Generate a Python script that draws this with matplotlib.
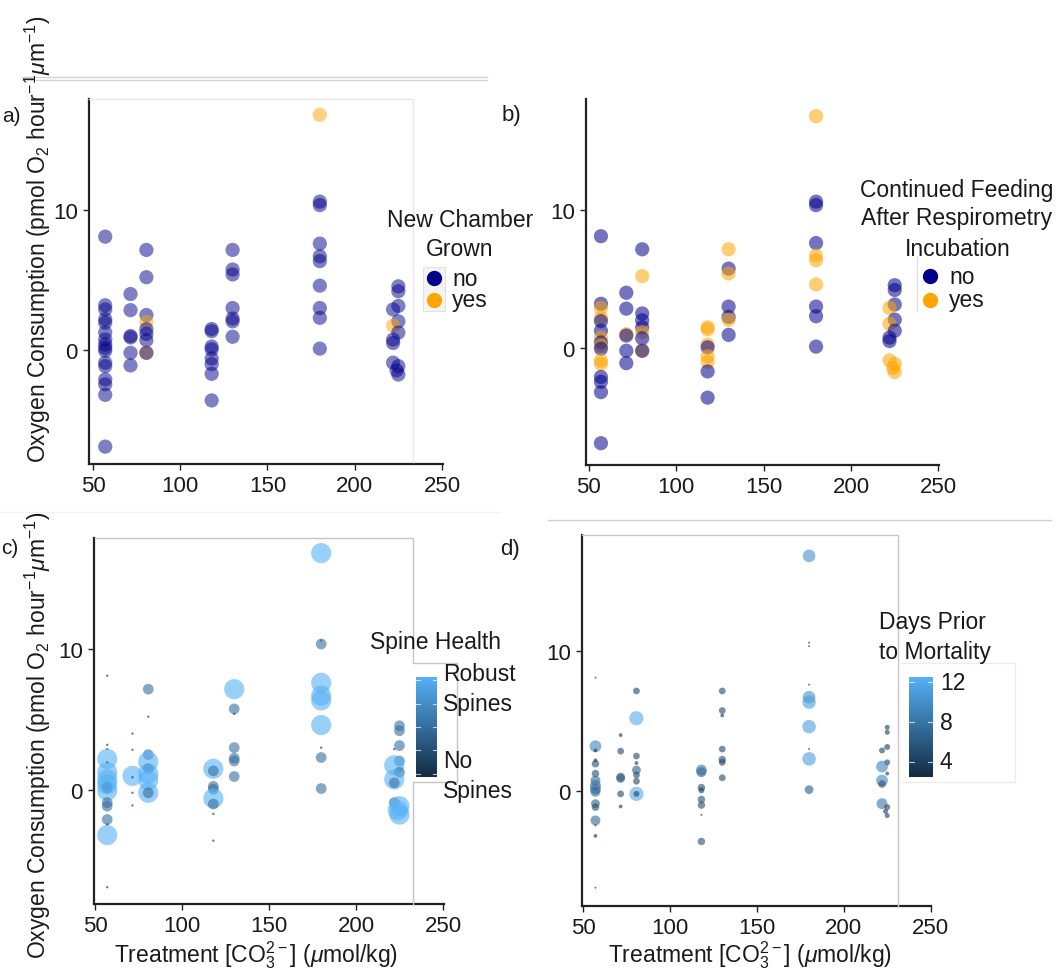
import numpy as np
import matplotlib
matplotlib.use("Agg")
import matplotlib.pyplot as plt
from matplotlib.colors import LinearSegmentedColormap
from matplotlib.lines import Line2D
from matplotlib.patches import Rectangle

# -- data: one row per foram -------------------------------------------------
treatment = [57, 57, 57, 57, 57, 57, 57, 57, 57, 57, 57, 57, 57, 57, 57, 57,
             71.5, 71.5, 71.5, 71.5, 71.5, 71.5,
             80.6, 80.6, 80.6, 80.6, 80.6, 80.6, 80.6, 80.6, 80.6,
             118, 118, 118, 118, 118, 118, 118, 118,
             130, 130, 130, 130, 130, 130, 130,
             180, 180, 180, 180, 180, 180, 180, 180, 180, 180,
             225, 225, 225, 222, 225, 222, 225, 222, 222, 222, 225, 224, 225]
oxygen = [8.1, 3.2, 2.9, 2.2, 1.95, 1.25, 0.75, 0.4, 0.15, -0.05, -0.9, -1.15, -2.1, -2.45, -3.2, -6.9,
          4.0, 2.85, 1.0, 0.9, -0.2, -1.1,
          7.15, 5.2, 2.5, 2.0, 1.5, 1.15, 0.7, -0.2, -0.2,
          1.5, 1.35, 0.25, 0.05, -0.6, -1.0, -1.7, -3.6,
          7.15, 5.75, 5.4, 3.0, 2.25, 2.05, 0.95,
          16.8, 10.6, 10.35, 7.6, 6.7, 6.35, 4.6, 3.0, 2.3, 0.1,
          4.55, 4.2, 3.15, 2.9, 2.05, 1.75, 1.25, 0.75, 0.5, -0.9, -1.15, -1.45, -1.75]
new_chamber = ["no"] * 16 + ["no"] * 6 + \
              ["no", "no", "no", "yes", "no", "no", "no", "yes", "no"] + ["no"] * 8 + ["no"] * 7 + \
              ["yes"] + ["no"] * 9 + \
              ["no", "no", "no", "no", "no", "yes", "no", "no", "no", "no", "no", "no", "no"]
fed = ["no", "no", "yes", "yes", "no", "no", "yes", "no", "yes", "no", "yes", "yes", "no", "no", "no", "no",
       "no", "no", "yes", "no", "no", "no",
       "no", "yes", "no", "no", "no", "yes", "no", "yes", "no",
       "yes", "yes", "yes", "no", "yes", "yes", "no", "no",
       "yes", "no", "yes", "no", "no", "yes", "no",
       "yes", "no", "no", "no", "yes", "yes", "yes", "no", "no", "no",
       "no", "no", "no", "yes", "no", "yes", "no", "no", "no", "yes", "yes", "yes", "yes"]
spine = [0, 0, 0, 2, 0, 2, 2, 2, 1, 2, 1, 1, 1, 0, 2, 0,
         0, 0, 2, 0, 0, 0,
         1, 0, 1, 2, 1, 2, 2, 2, 1,
         2, 1, 1, 1, 2, 1, 0, 0,
         2, 1, 0, 1, 1, 1, 1,
         2, 0, 1, 2, 2, 2, 2, 0, 1, 1,
         1, 1, 1, 0, 1, 2, 1, 2, 1, 1, 2, 2, 2]
days = [2.5, 9, 3, 3, 5, 5, 7, 8, 8, 7, 6, 5, 7, 2.5, 3, 2.5,
        3, 4.5, 6, 6, 4.5, 3,
        4.5, 12, 4.5, 3, 6, 4.5, 4.5, 12, 4,
        8, 7, 5, 4, 5, 5, 2.5, 5,
        4.5, 4.5, 3, 4.5, 5, 4.5, 4.5,
        10, 2.5, 2.5, 2.5, 10, 11, 11, 2.5, 11, 6,
        3.5, 3.5, 4, 4, 4, 9, 3, 9, 5, 8, 4, 3.5, 3.5]
ticks_x = [50, 100, 150, 200, 250]
ticks_y = [0, 10]
days_ticks = [12, 8, 4]

W, H = 1063, 970
plt.rcParams["font.family"] = ["Liberation Sans", "DejaVu Sans"]
plt.rcParams["mathtext.fontset"] = "custom"
plt.rcParams["mathtext.rm"] = "Liberation Sans"
plt.rcParams["mathtext.it"] = "Liberation Sans:italic"

fig = plt.figure(figsize=(W / 100, H / 100), dpi=100)

NAVY = "#00008B"
ORANGE = "#FFA500"
blues = LinearSegmentedColormap.from_list("gg", ["#132B43", "#56B1F7"])
ylab = r"Oxygen Consumption (pmol O$_2$ hour$^{-1}$$\mu$m$^{-1}$)"
xlab = r"Treatment [CO$_3^{2-}$] ($\mu$mol/kg)"
TXT = "#1a1a1a"


def px_axes(l, t, r, b):
    return fig.add_axes([l / W, 1 - b / H, (r - l) / W, (b - t) / H])


def ftext(x, y, s, **kw):
    kw.setdefault("fontsize", 16.5)
    kw.setdefault("color", TXT)
    kw.setdefault("va", "center")
    fig.text(x / W, 1 - y / H, s, **kw)


def fline(pts, color, lw=1.0):
    xs = [p[0] / W for p in pts]
    ys = [1 - p[1] / H for p in pts]
    fig.add_artist(Line2D(xs, ys, color=color, lw=lw, transform=fig.transFigure))


def style(ax, xlim, ylim):
    ax.set_xlim(xlim)
    ax.set_ylim(ylim)
    for s in ["top", "right"]:
        ax.spines[s].set_visible(False)
    for s in ["left", "bottom"]:
        ax.spines[s].set_linewidth(1.6)
        ax.spines[s].set_color("#222222")
    ax.set_xticks(ticks_x)
    ax.set_yticks(ticks_y)
    ax.tick_params(axis="both", labelsize=16, length=4, width=1, pad=4, colors="#222222",
                   labelcolor=TXT)
    ax.patch.set_alpha(0)


x = np.array(treatment)
y = np.array(oxygen)

# -- a) new chamber grown ---------------------------------------------------
fline([(89, 100), (413, 100), (413, 463)], "#e8e8e8")
ax = px_axes(89, 100, 443, 465)
style(ax, (47.7, 250.6), (-8.14, 17.93))
ax.scatter(x, y, s=105, c=[NAVY if v == "no" else ORANGE for v in new_chamber],
           alpha=0.5, linewidths=0)

# -- b) continued feeding ---------------------------------------------------
ax = px_axes(586, 100, 939, 466)
style(ax, (48.46, 250.3), (-8.48, 18.04))
ax.scatter(x, y, s=105, c=[NAVY if v == "no" else ORANGE for v in fed],
           alpha=0.55, linewidths=0)

# -- c) spine health ----------------------------------------------------------
fline([(95, 539), (413, 539), (413, 664), (457, 664), (457, 783), (413, 783), (413, 905)],
      "#c4c4c4")
ax = px_axes(94, 539, 444, 905)
style(ax, (49.4, 250.6), (-8.09, 17.87))
sp = np.array(spine)
sizes_c = np.array([3, 60, 210])[sp]
ax.scatter(x, y, s=sizes_c, c=sp, cmap=blues, vmin=0, vmax=2, alpha=0.6, linewidths=0)

# -- d) days prior to mortality ---------------------------------------------
fline([(582, 536), (898, 536), (898, 907)], "#c8c8c8")
ax = px_axes(582, 536, 931, 907)
style(ax, (49.25, 250.2), (-8.21, 18.29))
dd = np.array(days)
ax.scatter(x, y, s=105 * (dd - 2.3) / (12 - 2.3), c=dd, cmap=blues, vmin=2.5, vmax=12.5,
           alpha=0.6, linewidths=0)

# -- axis titles and panel tags --------------------------------------------
ftext(38, 239, ylab, rotation=90, ha="center", fontsize=16.5)
ftext(38, 735, ylab, rotation=90, ha="center", fontsize=16.5)
ftext(256, 955, xlab, ha="center", fontsize=16.5)
ftext(750, 955, xlab, ha="center", fontsize=16.5)
ftext(2, 116, "a)", fontsize=15)
ftext(502, 115, "b)", fontsize=16)
ftext(1, 548, "c)", fontsize=15)
ftext(500, 549, "d)", fontsize=16)

# -- legends ---------------------------------------------------------------
fig.add_artist(Rectangle((423 / W, 1 - 312 / H), 22 / W, 44 / H, transform=fig.transFigure,
                         facecolor="#f4f4f4", edgecolor="#e2e2e2", lw=0.8))
ftext(460, 221, "New Chamber", ha="center")
ftext(460, 250, "Grown", ha="center")
for yy, col, lab in [(279, NAVY, "no"), (301, ORANGE, "yes")]:
    fig.add_artist(Line2D([434 / W], [1 - yy / H], marker="o", ms=10, color=col, lw=0,
                          transform=fig.transFigure))
    ftext(452, yy, lab)

ftext(957, 190, "Continued Feeding", ha="center")
ftext(957, 219, "After Respirometry", ha="center")
ftext(958, 249, "Incubation", ha="center")
fline([(917, 257), (917, 312)], "#e0e0e0")
for yy, col, lab in [(277, NAVY, "no"), (301, ORANGE, "yes")]:
    fig.add_artist(Line2D([930 / W], [1 - yy / H], marker="o", ms=10, color=col, lw=0,
                          transform=fig.transFigure))
    ftext(949, yy, lab)

grad = np.linspace(0, 1, 256)[:, None]
ftext(370, 643, "Spine Health")
cax = px_axes(416, 678, 437, 778)
cax.imshow(grad, cmap=blues, aspect="auto", origin="lower", extent=[0, 1, 0, 1])
for yy in [0.03, 0.27, 0.5, 0.73, 0.97]:
    cax.plot([0, 0.2], [yy, yy], color="white", lw=0.8, alpha=0.7)
    cax.plot([0.8, 1], [yy, yy], color="white", lw=0.8, alpha=0.7)
cax.set_xlim(0, 1)
cax.set_ylim(0, 1)
cax.axis("off")
ftext(443, 675, "Robust")
ftext(443, 705, "Spines")
ftext(443, 762, "No")
ftext(443, 792, "Spines")

fline([(902, 664), (1015, 664), (1015, 783), (902, 783)], "#ececec")
ftext(879, 622, "Days Prior")
ftext(879, 652, "to Mortality")
cax = px_axes(909, 678, 933, 778)
cax.imshow(grad, cmap=blues, aspect="auto", origin="lower", extent=[0, 1, 2.5, 12.5])
for t in days_ticks:
    cax.plot([0, 0.2], [t, t], color="white", lw=0.8, alpha=0.7)
    cax.plot([0.8, 1], [t, t], color="white", lw=0.8, alpha=0.7)
cax.set_xlim(0, 1)
cax.set_ylim(2.5, 12.5)
cax.axis("off")
for t in days_ticks:
    ftext(940, 678 + (12.5 - t) * 10, str(t))

# -- stray separator lines of the original layout --------------------------
fline([(22, 78), (487, 78)], "#d4d4d4")
fline([(22, 81), (487, 81)], "#d4d4d4")
fline([(0, 513), (500, 513)], "#f2f2f2")
fline([(548, 521), (1051, 521)], "#cfcfcf")

fig.savefig("out.png", dpi=100)
